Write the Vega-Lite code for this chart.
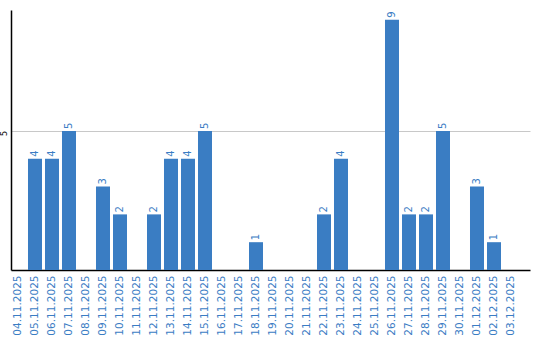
{
  "$schema": "https://vega.github.io/schema/vega-lite/v6.json",
  "width": 519,
  "height": 260,
  "autosize": {"type": "none"},
  "padding": {"left": 11, "top": 10, "right": 10, "bottom": 70},
  "background": "white",
  "config": {"view": {"stroke": null}, "font": "DejaVu Sans"},
  "data": {
    "values": [
      {"date": "04.11.2025", "count": 0},
      {"date": "05.11.2025", "count": 4},
      {"date": "06.11.2025", "count": 4},
      {"date": "07.11.2025", "count": 5},
      {"date": "08.11.2025", "count": 0},
      {"date": "09.11.2025", "count": 3},
      {"date": "10.11.2025", "count": 2},
      {"date": "11.11.2025", "count": 0},
      {"date": "12.11.2025", "count": 2},
      {"date": "13.11.2025", "count": 4},
      {"date": "14.11.2025", "count": 4},
      {"date": "15.11.2025", "count": 5},
      {"date": "16.11.2025", "count": 0},
      {"date": "17.11.2025", "count": 0},
      {"date": "18.11.2025", "count": 1},
      {"date": "19.11.2025", "count": 0},
      {"date": "20.11.2025", "count": 0},
      {"date": "21.11.2025", "count": 0},
      {"date": "22.11.2025", "count": 2},
      {"date": "23.11.2025", "count": 4},
      {"date": "24.11.2025", "count": 0},
      {"date": "25.11.2025", "count": 0},
      {"date": "26.11.2025", "count": 9},
      {"date": "27.11.2025", "count": 2},
      {"date": "28.11.2025", "count": 2},
      {"date": "29.11.2025", "count": 5},
      {"date": "30.11.2025", "count": 0},
      {"date": "01.12.2025", "count": 3},
      {"date": "02.12.2025", "count": 1},
      {"date": "03.12.2025", "count": 0}
    ]
  },
  "encoding": {
    "x": {
      "field": "date",
      "type": "ordinal",
      "sort": null,
      "scale": {"paddingInner": 0.1765, "paddingOuter": 0.353, "align": 0},
      "axis": {
        "title": null,
        "labelAngle": -90,
        "labelColor": "#3b7dc4",
        "labelFontSize": 10.5,
        "labelPadding": 5,
        "ticks": false,
        "domainColor": "#000000",
        "domainWidth": 1.5,
        "grid": false
      }
    },
    "y": {
      "field": "count",
      "type": "quantitative",
      "scale": {"domain": [0, 9.35], "nice": false},
      "axis": {
        "title": null,
        "values": [5],
        "labelAngle": -90,
        "labelAlign": "center",
        "labelBaseline": "bottom",
        "labelFontSize": 8,
        "labelColor": "#000000",
        "labelPadding": 3,
        "labelOffset": 2,
        "ticks": false,
        "domainColor": "#000000",
        "domainWidth": 1.5,
        "grid": true,
        "gridColor": "#c8c8c8",
        "gridWidth": 1
      }
    }
  },
  "layer": [
    {
      "mark": {"type": "bar", "color": "#3a7dc3"}
    },
    {
      "transform": [{"filter": "datum.count > 0"}],
      "mark": {
        "type": "text",
        "angle": 270,
        "align": "left",
        "baseline": "middle",
        "dx": 2,
        "fontSize": 10,
        "color": "#3b7dc4"
      },
      "encoding": {"text": {"field": "count", "type": "quantitative"}}
    }
  ]
}
